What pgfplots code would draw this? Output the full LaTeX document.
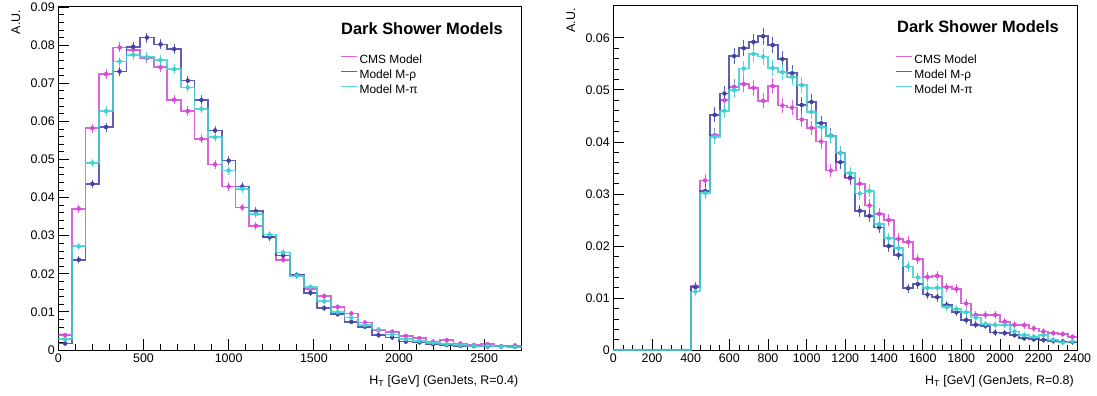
\documentclass[border=0pt]{standalone}
\usepackage{fontspec}
\setmainfont{Liberation Sans}
\usepackage{pgfplots}
\usepackage{pgfplotstable}
\pgfplotsset{compat=1.18}
\definecolor{cmscol}{RGB}{215,72,215}
\definecolor{rhocol}{RGB}{66,66,165}
\definecolor{picol}{RGB}{64,208,208}

% H_T, R=0.4: bin left edge, CMS (value, error), M-rho, M-pi
\pgfplotstableread{
x c ce r re p pe
0 0.0039 0.0002 0.0017 0.00013 0.0028 0.00017
80 0.0371 0.0006 0.0237 0.0005 0.0272 0.0005
160 0.0582 0.0008 0.0436 0.00067 0.0491 0.0007
240 0.0724 0.00086 0.0585 0.00077 0.0627 0.0008
320 0.0794 0.0009 0.0731 0.00086 0.0757 0.00088
400 0.0788 0.0009 0.0796 0.0009 0.0775 0.00089
480 0.0766 0.00089 0.0820 0.0009 0.0768 0.00089
560 0.0742 0.00087 0.0802 0.0009 0.0761 0.00088
640 0.0657 0.00082 0.0790 0.0009 0.0737 0.00087
720 0.0627 0.0008 0.0707 0.00085 0.0689 0.00084
800 0.0554 0.00075 0.0656 0.00082 0.0633 0.0008
880 0.0487 0.0007 0.0576 0.00077 0.0558 0.00075
960 0.0429 0.00066 0.0497 0.00071 0.0471 0.0007
1040 0.0374 0.00062 0.0429 0.00066 0.0423 0.00066
1120 0.0326 0.00058 0.0364 0.00061 0.0357 0.0006
1200 0.0297 0.00055 0.0296 0.00055 0.0303 0.00056
1280 0.0237 0.00049 0.0248 0.0005 0.0256 0.00051
1360 0.0196 0.00045 0.0197 0.00045 0.0195 0.00045
1440 0.0160 0.0004 0.0150 0.00039 0.0165 0.00041
1520 0.0141 0.00038 0.0110 0.00034 0.0128 0.00036
1600 0.0113 0.00034 0.0094 0.00031 0.0099 0.00032
1680 0.0096 0.00031 0.0074 0.00028 0.0085 0.0003
1760 0.0072 0.00027 0.0061 0.00025 0.0065 0.00026
1840 0.0052 0.00023 0.0039 0.0002 0.0054 0.00024
1920 0.0048 0.00022 0.0033 0.00018 0.0041 0.0002
2000 0.0037 0.0002 0.0022 0.00015 0.0028 0.00017
2080 0.0031 0.00018 0.0020 0.00014 0.0024 0.00016
2160 0.0022 0.00015 0.0015 0.00012 0.0019 0.00014
2240 0.0026 0.00016 0.0013 0.00012 0.0015 0.00012
2320 0.0017 0.00013 0.0011 0.00011 0.0013 0.00012
2400 0.0013 0.00012 0.0010 0.0001 0.0011 0.00011
2480 0.0015 0.00012 0.0009 0.0001 0.0010 0.0001
2560 0.0010 0.0001 0.0009 0.0001 0.0009 0.0001
2640 0.0012 0.00011 0.0008 0.00009 0.0008 0.00009
2720 0.0012 0 0.0008 0 0.0008 0
}\leftdata

% H_T, R=0.8
\pgfplotstableread{
x c ce r re p pe
0 0 0 0 0 0 0
50 0 0 0 0 0 0
100 0 0 0 0 0 0
150 0 0 0 0 0 0
200 0 0 0 0 0 0
250 0 0 0 0 0 0
300 0 0 0 0 0 0
350 0 0 0 0 0 0
400 0.0123 0.0006 0.0121 0.00058 0.0113 0.00056
450 0.0326 0.00096 0.0306 0.00093 0.0302 0.00092
500 0.0413 0.00108 0.0452 0.00113 0.0410 0.00107
550 0.0480 0.00116 0.0493 0.00118 0.0460 0.00114
600 0.0506 0.00119 0.0565 0.00126 0.0500 0.00118
650 0.0511 0.0012 0.0580 0.00128 0.0541 0.00123
700 0.0504 0.00119 0.0592 0.00129 0.0569 0.00126
750 0.0479 0.00116 0.0603 0.0013 0.0564 0.00126
800 0.0507 0.00119 0.0586 0.00128 0.0542 0.00123
850 0.0470 0.00115 0.0559 0.00125 0.0534 0.00122
900 0.0466 0.00114 0.0532 0.00122 0.0525 0.00121
950 0.0443 0.00112 0.0471 0.00115 0.0509 0.0012
1000 0.0427 0.0011 0.0477 0.00116 0.0458 0.00113
1050 0.0401 0.00106 0.0436 0.00111 0.0429 0.0011
1100 0.0345 0.00098 0.0412 0.00108 0.0411 0.00107
1150 0.0379 0.00103 0.0361 0.00101 0.0379 0.00103
1200 0.0330 0.00096 0.0332 0.00097 0.0340 0.00098
1250 0.0320 0.00095 0.0268 0.00087 0.0301 0.00092
1300 0.0278 0.00088 0.0258 0.00085 0.0306 0.00093
1350 0.0262 0.00086 0.0236 0.00081 0.0242 0.00082
1400 0.0250 0.00084 0.0200 0.00075 0.0215 0.00078
1450 0.0214 0.00078 0.0183 0.00072 0.0196 0.00074
1500 0.0208 0.00076 0.0119 0.00058 0.0161 0.00067
1550 0.0175 0.0007 0.0127 0.0006 0.0140 0.00063
1600 0.0141 0.00063 0.0107 0.00055 0.0120 0.00058
1650 0.0143 0.00063 0.0102 0.00054 0.0120 0.00058
1700 0.0121 0.00058 0.0087 0.0005 0.0083 0.00048
1750 0.0118 0.00058 0.0073 0.00045 0.0079 0.00047
1800 0.0090 0.0005 0.0058 0.0004 0.0073 0.00045
1850 0.0068 0.00044 0.0049 0.00037 0.0063 0.00042
1900 0.0068 0.00044 0.0047 0.00036 0.0050 0.00037
1950 0.0068 0.00044 0.0034 0.00031 0.0049 0.00037
2000 0.0055 0.00039 0.0033 0.0003 0.0049 0.00037
2050 0.0049 0.00037 0.0029 0.00029 0.0036 0.00032
2100 0.0048 0.00037 0.0023 0.00025 0.0029 0.00029
2150 0.0042 0.00034 0.0021 0.00024 0.0026 0.00027
2200 0.0036 0.00032 0.0020 0.00024 0.0029 0.00029
2250 0.0033 0.0003 0.0018 0.00022 0.0020 0.00024
2300 0.0031 0.0003 0.0017 0.00022 0.0015 0.0002
2350 0.0026 0.00027 0.0016 0.00021 0.0017 0.00022
2400 0.0026 0 0.0016 0 0.0017 0
}\rightdata

\newcommand{\lblfont}{\fontsize{12.5}{15}\selectfont}

\begin{document}
\begin{tikzpicture}
\pgfplotsset{
  dsbase/.style={
    scale only axis, anchor=south west,
    axis line style={black, line width=0.9bp},
    tick align=inside, tick pos=left,
    major tick length=11bp, minor tick length=5.5bp,
    tick style={black, line width=0.8bp},
    minor y tick num=4,
    scaled x ticks=false, scaled y ticks=false,
    tick label style={font=\lblfont},
    ymin=0, clip=true,
    xlabel style={at={(axis description cs:1,-0.1004)}, anchor=base east, font=\lblfont},
    ylabel style={at={(axis description cs:-0.0917,1)}, anchor=east, font=\lblfont},
    legend cell align=left,
    legend style={draw=none, fill=none, inner sep=0pt, outer sep=0pt,
      row sep=3bp, column sep=2bp, font=\fontsize{12}{14}\selectfont,
      nodes={inner sep=0bp, text height=9bp, text depth=3bp}},
    legend image code/.code={\draw[##1, line width=1.5bp] (0bp,4bp) -- (16bp,4bp);},
  },
  hist/.style={const plot, line width=1.75bp, draw=#1, draw opacity=0.85, line join=miter},
  errb/.style={only marks, mark=none, color=#1, forget plot,
    error bars/.cd, y dir=both, y explicit,
    error bar style={line width=1bp, #1, opacity=0.8},
    error mark options={#1, line width=1bp, mark size=1.6bp}},
}
\begin{axis}[dsbase,
  at={(58.3bp,46bp)}, width=463.4bp, height=343.7bp,
  xmin=0, xmax=2720, ymax=0.0902,
  xtick={0,500,1000,1500,2000,2500},
  xticklabels={0,500,1000,1500,2000,2500},
  minor x tick num=4,
  ytick={0,0.01,0.02,0.03,0.04,0.05,0.06,0.07,0.08,0.09},
  yticklabels={0,0.01,0.02,0.03,0.04,0.05,0.06,0.07,0.08,0.09},
  xlabel={H\textsubscript{T} [GeV] (GenJets, R=0.4)},
  ylabel={A.U.},
  legend style={at={(axis description cs:0.608,0.860)}, anchor=north west},
]
\addplot[hist=cmscol] table[x=x, y=c]{\leftdata};
\addlegendentry{CMS Model}
\addplot[hist=rhocol] table[x=x, y=r]{\leftdata};
\addlegendentry{Model M-ρ}
\addplot[hist=picol] table[x=x, y=p]{\leftdata};
\addlegendentry{Model M-π}
\addplot[restrict x to domain=0:2720, errb=cmscol] table[x expr=\thisrow{x}+40, y=c, y error=ce]{\leftdata};
\addplot[restrict x to domain=0:2720, errb=rhocol] table[x expr=\thisrow{x}+40, y=r, y error=re]{\leftdata};
\addplot[restrict x to domain=0:2720, errb=picol] table[x expr=\thisrow{x}+40, y=p, y error=pe]{\leftdata};
\end{axis}
\node[font=\bfseries\fontsize{16.5}{19}\selectfont] at (422bp,367bp) {Dark Shower Models};

\begin{axis}[dsbase,
  at={(613.3bp,45.7bp)}, width=464bp, height=345.3bp,
  xmin=0, xmax=2400, ymax=0.0663,
  xtick={0,200,400,600,800,1000,1200,1400,1600,1800,2000,2200,2400},
  xticklabels={0,200,400,600,800,1000,1200,1400,1600,1800,2000,2200,2400},
  minor x tick num=3,
  ytick={0,0.01,0.02,0.03,0.04,0.05,0.06},
  yticklabels={0,0.01,0.02,0.03,0.04,0.05,0.06},
  xlabel={H\textsubscript{T} [GeV] (GenJets, R=0.8)},
  ylabel={A.U.},
  ylabel style={at={(axis description cs:-0.0912,1)}},
  xlabel style={at={(axis description cs:1,-0.1)}},
  legend style={at={(axis description cs:0.607,0.857)}, anchor=north west},
]
\addplot[hist=cmscol] table[x=x, y=c]{\rightdata};
\addlegendentry{CMS Model}
\addplot[hist=rhocol] table[x=x, y=r]{\rightdata};
\addlegendentry{Model M-ρ}
\addplot[hist=picol] table[x=x, y=p]{\rightdata};
\addlegendentry{Model M-π}
\addplot[restrict x to domain=400:2400, errb=cmscol] table[x expr=\thisrow{x}+25, y=c, y error=ce]{\rightdata};
\addplot[restrict x to domain=400:2400, errb=rhocol] table[x expr=\thisrow{x}+25, y=r, y error=re]{\rightdata};
\addplot[restrict x to domain=400:2400, errb=picol] table[x expr=\thisrow{x}+25, y=p, y error=pe]{\rightdata};
\end{axis}
\node[font=\bfseries\fontsize{16.5}{19}\selectfont] at (978bp,369bp) {Dark Shower Models};

\pgfresetboundingbox
\useasboundingbox (0,0) rectangle (1097bp,396bp);
\end{tikzpicture}
\end{document}
